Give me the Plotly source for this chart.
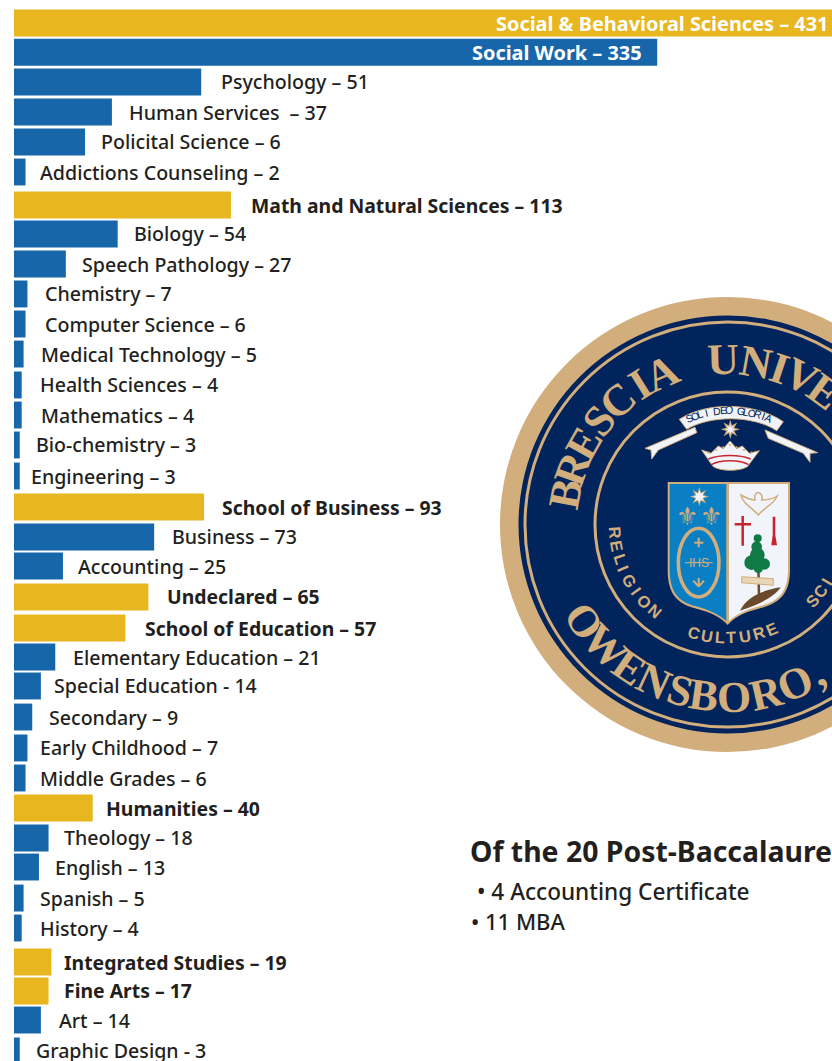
import math
import plotly.graph_objects as go

# ---------- data ----------
labels = ["Social & Behavioral Sciences – 431", "Social Work – 335", "Psychology – 51", "Human Services  – 37",
          "Policital Science – 6", "Addictions Counseling – 2", "Math and Natural Sciences – 113", "Biology – 54",
          "Speech Pathology – 27", "Chemistry – 7", "Computer Science – 6", "Medical Technology – 5",
          "Health Sciences – 4", "Mathematics – 4", "Bio-chemistry – 3", "Engineering – 3",
          "School of Business – 93", "Business – 73", "Accounting – 25", "Undeclared – 65",
          "School of Education – 57", "Elementary Education – 21", "Special Education - 14", "Secondary – 9",
          "Early Childhood – 7", "Middle Grades – 6", "Humanities – 40", "Theology – 18", "English – 13",
          "Spanish – 5", "History – 4", "Integrated Studies – 19", "Fine Arts – 17", "Art – 14", "Graphic Design - 3"]
# drawn bar lengths
drawn_lengths = [431, 335, 97.5, 51, 37, 6, 113, 54, 27, 7, 6, 5, 4, 4, 3, 3, 99, 73, 25.5, 70, 58, 21.5, 14, 9.5, 7, 6,
                 41, 18, 13, 5, 4, 19.5, 18, 14, 3]
is_group = [1, 0, 0, 0, 0, 0, 1, 0, 0, 0, 0, 0, 0, 0, 0, 0, 1, 0, 0, 1, 1, 0, 0, 0, 0, 0, 1, 0, 0, 0, 0, 1, 1, 0, 0]
is_bold = [1, 1, 0, 0, 0, 0, 1, 0, 0, 0, 0, 0, 0, 0, 0, 0, 1, 0, 0, 1, 1, 0, 0, 0, 0, 0, 1, 0, 0, 0, 0, 1, 1, 0, 0]
headline = "Of the 20 Post-Baccalaure"
notes = ["• 4 Accounting Certificate", "• 11 MBA"]

# ---------- style / layout ----------
GOLD, BLUE, TAN, NAVY, INK = "#e8b61f", "#1766a9", "#d2ae7c", "#00245b", "#231f20"
RED, SKY, PALE, GREEN, BROWN = "#c8242f", "#0a7fc4", "#f1f4fb", "#0f7a45", "#6b4a2b"
FONT = "Noto Sans"
W, H = 832, 1061
PX_PER_UNIT, X0 = 1.92, 14
ROW0, ROW_STEP = 23, 30.24
XMAX = (W - X0) / PX_PER_UNIT
BAR_W = 0.89
label_gap = [-2, -13, 18, 15, 14, 12, 18, 14, 14, 16, 17, 15, 16, 17, 14, 9, 16, 16, 13, 17, 18, 16, 11, 15, 11, 12,
             11, 13, 14, 14, 16, 11, 13, 16, 14]
# the rows of the original are spaced very slightly unevenly (pixels off an even rhythm)
row_nudge = [0, -1, -1.5, -1.7, -2, -2.2, .6, -.7, -.9, -1.2, -1.4, -1.6, -.9, -1.1, -1.4, -.6, .2, -.1, -1.3, -.6, .2,
             -1, -2.3, -1.5, -.8, -1, -1.2, -1.5, -2.7, -1.9, -2.2, 1.6, .3, -.9, -.2]

fig = go.Figure(go.Bar(
    y=labels, x=drawn_lengths, orientation="h", width=BAR_W,
    offset=[n / ROW_STEP - BAR_W / 2 for n in row_nudge],
    marker=dict(color=[GOLD if g else BLUE for g in is_group], line_width=0), hoverinfo="skip"))

ann = []
for i, (lab, v) in enumerate(zip(labels, drawn_lengths)):
    inside = label_gap[i] < 0
    bold = bool(is_bold[i])
    ann.append(dict(x=min(v, XMAX), y=lab, xref="x", yref="y", text=f"<b>{lab}</b>" if bold else lab,
                    showarrow=False, xanchor="right" if inside else "left", xshift=label_gap[i],
                    yshift=-row_nudge[i], yanchor="middle",
                    font=dict(family=FONT, size=19.9 if inside else (19.4 if bold else 19.6),
                              color="white" if inside else INK, weight=700 if bold else 500)))


def px_text(x, y, text, size, color=INK, family=FONT, angle=0, anchor="center", weight=None):
    f = dict(family=family, size=size, color=color)
    if weight:
        f["weight"] = weight
    ann.append(dict(x=x, y=y, xref="x2", yref="y2", text=text, showarrow=False, xanchor=anchor, yanchor="middle",
                    textangle=angle, font=f))


px_text(468, 851, f"<b>{headline}</b>", 28.4, anchor="left")
px_text(475, 891, notes[0], 22.6, anchor="left", weight=500)
px_text(469, 921, notes[1], 22, anchor="left", weight=500)

# ---------- seal ----------
CX, CY = 727.5, 524.5
shapes = []


def circle(r, fill, cx=CX, cy=CY, line=None, lw=0, ry=None):
    ry = ry or r
    shapes.append(dict(type="circle", xref="x2", yref="y2", x0=cx - r, x1=cx + r, y0=cy - ry, y1=cy + ry,
                       fillcolor=fill, line=dict(color=line or fill, width=lw), layer="above"))


def z(x, y):  # crest drawing grid to page pixels
    return f"{x / 3 + 640:.1f},{y / 3 + 390:.1f}"


def path(cmds, fill="rgba(0,0,0,0)", line=None, lw=0):
    out = []
    for c in cmds:
        if isinstance(c, str):
            out.append(c)
        else:
            out.append(z(*c))
    shapes.append(dict(type="path", xref="x2", yref="y2", path=" ".join(out), fillcolor=fill,
                       line=dict(color=line or fill, width=lw), layer="above"))


def star(cx, cy, r1, r2, n, fill):
    pts = []
    for k in range(2 * n):
        r = r1 if k % 2 == 0 else r2
        a = math.pi * k / n
        pts.append(("M" if k == 0 else "L"))
        pts.append((cx + r * math.sin(a), cy - r * math.cos(a)))
    pts.append("Z")
    path(pts, fill)


circle(227.5, TAN)
circle(209, NAVY)
circle(202.5, NAVY, line=TAN, lw=3)
circle(132.5, NAVY, line=TAN, lw=3)


def arc_top(text, thetas, r, size, color=TAN, family="Liberation Serif", cx=CX, cy=CY, bold=False):
    for ch, t in zip(text, thetas):
        a = math.radians(t)
        if ch != " ":
            px_text(cx + r * math.sin(a), cy - r * math.cos(a), f"<b>{ch}</b>" if bold else ch, size, color, family, t)


def arc_bottom(text, thetas, r, size, color=TAN, family="Liberation Serif", bold=False):
    for ch, t in zip(text, thetas):
        a = math.radians(t)
        px_text(CX - r * math.sin(a), CY + r * math.cos(a), f"<b>{ch}</b>" if bold else ch, size, color, family, t)


arc_top("BRESCIA", [-79.4, -70, -60.5, -51, -41.5, -32, -23.5], 165, 44, bold=True)
arc_top("UNIVE", [-1.5, 10, 18.5, 26.5, 36], 165, 44, bold=True)
arc_bottom("OWENSBORO,", [56, 45, 34.5, 25, 16, 8, -2, -13, -23, -31], 173, 44, bold=True)
arc_bottom("RELIGION", [86, 79, 72, 67, 60, 54, 47, 40], 113, 16.5, family="Liberation Sans", bold=True)
arc_bottom("CULTURE", [17, 10.5, 4, -2, -9, -16, -23], 113, 16.5, family="Liberation Sans", bold=True)
arc_bottom("SCI", [-48, -54.5, -60], 114, 16.5, family="Liberation Sans", bold=True)

# banner
path(["M", (165, 112), "L", (15, 175), "L", (33, 180), "L", (35, 207), "L", (55, 180), "L", (170, 128), "Z"],
     PALE, TAN, 1)
path(["M", (375, 120), "L", (533, 188), "L", (510, 190), "L", (510, 217), "L", (490, 190), "L", (385, 145), "Z"],
     PALE, TAN, 1)
path(["M", (118, 88), "C", (200, 35), (340, 35), (430, 95), "L", (410, 122), "C", (340, 75), (210, 75), (140, 118), "Z"],
     PALE, TAN, 1)
motto = "SOLI DEO GLORIA"
arc_top(motto, [-24 + 3.43 * k for k in range(len(motto))], 97, 10.5, NAVY, "Liberation Sans", 729, 507)
star(271, 118, 29, 13, 8, TAN)
star(271, 118, 15, 7, 8, PALE)
# crown
path(["M", (185, 180), "L", (213, 190), "L", (235, 168), "L", (250, 176), "L", (270, 153), "L", (290, 176), "L", (307, 168),
      "L", (328, 190), "L", (358, 182), "L", (328, 222), "C", (320, 247), (222, 247), (214, 222), "Z"], PALE, TAN, 1)
path(["M", (205, 207), "C", (240, 193), (300, 193), (332, 207)], line=RED, lw=1.5)
path(["M", (214, 224), "C", (240, 208), (300, 208), (326, 224)], line=RED, lw=1.5)
for dx_, dy_ in [(205, 188), (228, 180), (250, 172), (270, 165), (290, 172), (312, 180), (335, 188)]:
    circle(1.1, TAN, 640 + dx_ / 3, 390 + dy_ / 3)

# shield
path(["M", (83, 276), "L", (450, 276), "L", (450, 540), "C", (450, 610), (420, 640), (360, 655), "C", (310, 668), (285, 680),
      (263, 705), "C", (240, 680), (215, 668), (165, 655), "C", (110, 640), (83, 610), (83, 540), "Z"], TAN)
path(["M", (89, 282), "L", (259, 282), "L", (259, 693), "C", (235, 672), (210, 660), (165, 648), "C", (115, 635), (89, 605),
      (89, 540), "Z"], SKY)
path(["M", (267, 282), "L", (444, 282), "L", (444, 540), "C", (444, 605), (415, 635), (360, 648), "C", (315, 660), (290, 672),
      (267, 693), "Z"], PALE)
star(178, 320, 29, 13, 8, TAN)
star(178, 320, 19, 10, 8, PALE)
px_text(640 + 140 / 3, 390 + 380 / 3, "⚜", 25, TAN, "DejaVu Sans")
px_text(640 + 213 / 3, 390 + 380 / 3, "⚜", 25, TAN, "DejaVu Sans")
circle(61 / 3, SKY, 640 + 176 / 3, 390 + 518 / 3, TAN, 3.5, ry=103 / 3)
px_text(640 + 176 / 3, 390 + 518 / 3, "IHS", 12, TAN, "Liberation Sans")
path(["M", (135, 518), "L", (218, 518)], line=TAN, lw=1)
path(["M", (176, 443), "L", (176, 472)], line=TAN, lw=2)
path(["M", (163, 458), "L", (190, 458)], line=TAN, lw=2)
path(["M", (176, 590), "L", (160, 572), "M", (176, 590), "L", (176, 564), "M", (176, 590), "L", (192, 572)], line=TAN, lw=2)
# dove, cross, arrow
path(["M", (303, 315), "C", (310, 345), (335, 350), (355, 375), "C", (375, 350), (400, 345), (412, 318), "C", (395, 330), (375, 330),
      (365, 330), "C", (372, 305), (340, 295), (345, 330), "C", (335, 330), (320, 325), (303, 315), "Z"], PALE, TAN, 1.5)
path(["M", (308, 378), "L", (308, 467), "M", (284, 403), "L", (333, 403)], line=RED, lw=2.5)
path(["M", (398, 380), "L", (406, 380), "L", (406, 435), "L", (411, 466), "L", (394, 466), "L", (398, 435), "Z"], RED)
# tree
path(["M", (355, 520), "L", (357, 620)], line=BROWN, lw=2.5)
for tx, ty, tr in [(353, 445, 12), (350, 470, 16), (335, 518, 22), (373, 522, 17), (352, 495, 22), (355, 535, 14)]:
    circle(tr / 3, GREEN, 640 + tx / 3, 390 + ty / 3)
path(["M", (305, 560), "L", (400, 566), "L", (400, 586), "L", (305, 578), "Z"], "#e8d6b4", TAN, 1)
path(["M", (300, 662), "C", (320, 620), (370, 600), (422, 592), "C", (400, 625), (350, 645), (300, 662), "Z"], BROWN)

fig.update_layout(
    width=W, height=H, margin=dict(l=0, r=0, t=0, b=0), paper_bgcolor="white", plot_bgcolor="white",
    showlegend=False, font=dict(family=FONT),
    xaxis=dict(range=[-X0 / PX_PER_UNIT, XMAX], visible=False, domain=[0, 1]),
    yaxis=dict(type="category", categoryorder="array", categoryarray=labels,
               range=[(H - ROW0) / ROW_STEP, -ROW0 / ROW_STEP], visible=False, domain=[0, 1]),
    xaxis2=dict(range=[0, W], visible=False, overlaying="x", anchor="y2"),
    yaxis2=dict(range=[H, 0], visible=False, overlaying="y", anchor="x2"),
    shapes=shapes, annotations=ann,
)
fig.add_trace(go.Scatter(x=[0], y=[0], xaxis="x2", yaxis="y2", mode="markers", marker_opacity=0, hoverinfo="skip"))
fig.write_html("out.html", config=dict(displayModeBar=False), include_plotlyjs=True,
               post_script="document.body.style.margin='0';document.body.style.overflow='hidden';")
